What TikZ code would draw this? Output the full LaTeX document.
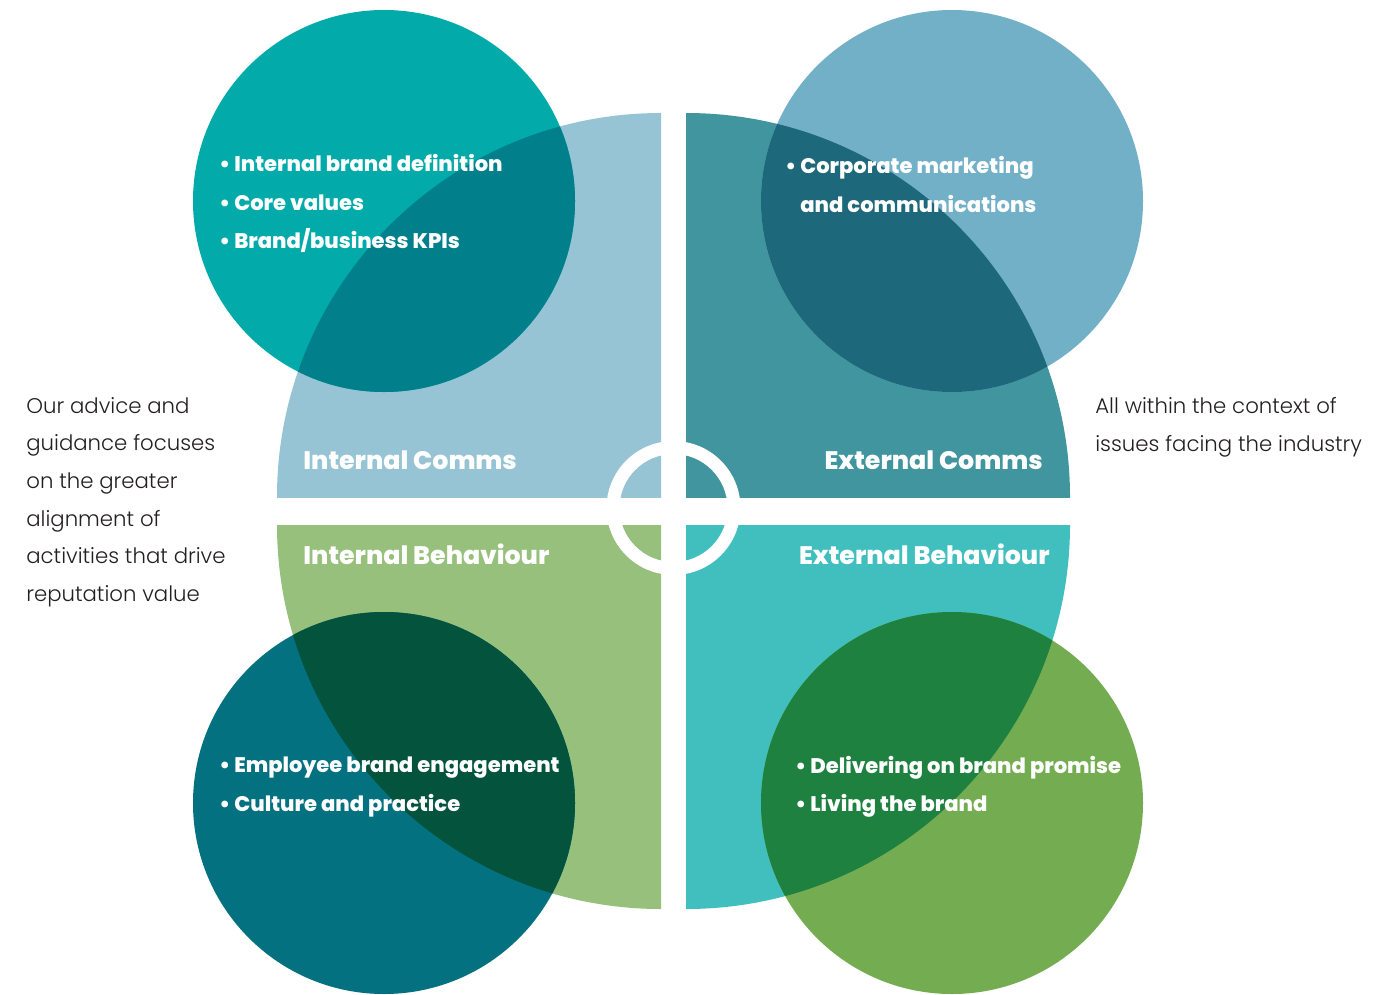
\documentclass[tikz,border=0pt]{standalone}
\usepackage{fontspec}
\setmainfont{Poppins}
\newfontfamily\lightfont{Poppins Light}
\newfontfamily\heavyfont{Poppins ExtraBold}
\usepackage{xcolor}
\usepackage{tikz}
\definecolor{icommsfill}{RGB}{151, 196, 212}
\definecolor{icommsdot}{RGB}{2, 170, 170}
\definecolor{icommsmix}{RGB}{1, 128, 140}
\definecolor{ecommsfill}{RGB}{65, 149, 158}
\definecolor{ecommsdot}{RGB}{114, 176, 200}
\definecolor{ecommsmix}{RGB}{29, 104, 122}
\definecolor{ibehavfill}{RGB}{150, 192, 123}
\definecolor{ibehavdot}{RGB}{3, 113, 127}
\definecolor{ibehavmix}{RGB}{3, 83, 61}
\definecolor{ebehavfill}{RGB}{65, 191, 191}
\definecolor{ebehavdot}{RGB}{116, 172, 82}
\definecolor{ebehavmix}{RGB}{31, 129, 64}
\definecolor{sidetext}{RGB}{35, 31, 32}

\begin{document}
\begin{tikzpicture}[
    x=0.02cm, y=-0.02cm,
    points/.style={text=white, font=\heavyfont\fontsize{12}{21.8}\selectfont, align=left, anchor=west, inner sep=0pt},
    heading/.style={text=white, font=\heavyfont\fontsize{14.4}{18}\selectfont, inner sep=0pt},
    aside/.style={text=sidetext, font=\lightfont\fontsize{12.1}{21.4}\selectfont, align=left, anchor=west, inner sep=0pt}
]
    \useasboundingbox (0,0) rectangle (1395,994);

    % Internal comms quadrant
    \begin{scope}
        \clip (277,113) rectangle (661,497);
        \fill[icommsfill] (661,497) circle[radius=384];
    \end{scope}
    \fill[icommsdot] (384,201) circle[radius=191];
    \begin{scope}
        \clip (277,113) rectangle (661,497);
        \clip (661,497) circle[radius=384];
        \fill[icommsmix] (384,201) circle[radius=191];
    \end{scope}

    % External comms quadrant
    \begin{scope}
        \clip (686,113) rectangle (1070,497);
        \fill[ecommsfill] (686,497) circle[radius=384];
    \end{scope}
    \fill[ecommsdot] (952,201) circle[radius=191];
    \begin{scope}
        \clip (686,113) rectangle (1070,497);
        \clip (686,497) circle[radius=384];
        \fill[ecommsmix] (952,201) circle[radius=191];
    \end{scope}

    % Internal behaviour quadrant
    \begin{scope}
        \clip (277,525) rectangle (661,909);
        \fill[ibehavfill] (661,525) circle[radius=384];
    \end{scope}
    \fill[ibehavdot] (384,803) circle[radius=191];
    \begin{scope}
        \clip (277,525) rectangle (661,909);
        \clip (661,525) circle[radius=384];
        \fill[ibehavmix] (384,803) circle[radius=191];
    \end{scope}

    % External behaviour quadrant
    \begin{scope}
        \clip (686,525) rectangle (1070,909);
        \fill[ebehavfill] (686,525) circle[radius=384];
    \end{scope}
    \fill[ebehavdot] (952,803) circle[radius=191];
    \begin{scope}
        \clip (686,525) rectangle (1070,909);
        \clip (686,525) circle[radius=384];
        \fill[ebehavmix] (952,803) circle[radius=191];
    \end{scope}

    % Centre ring
    \fill[white, even odd rule] (673.5,508) circle[radius=67] circle[radius=54];

    % Quadrant titles
    \node[heading, anchor=west] (icomms) at (303,460) {Internal Comms};
    \node[heading, anchor=east] (ecomms) at (1043,460) {External Comms};
    \node[heading, anchor=west] (ibehav) at (303,554) {Internal Behaviour};
    \node[heading, anchor=east] (ebehav) at (1050,554) {External Behaviour};

    % Bullet lists
    \node[points] (icommslist) at (219,203.5) {• Internal brand definition\\• Core values\\• Brand/business KPIs};
    \node[points] (ecommslist) at (785,184.5) {• Corporate marketing\\\phantom{• }and communications};
    \node[points] (ibehavlist) at (219,787) {• Employee brand engagement\\• Culture and practice};
    \node[points] (ebehavlist) at (795,787) {• Delivering on brand promise\\• Living the brand};

    % Side notes
    \node[aside] (advice) at (26,502) {Our advice and\\guidance focuses\\on the greater\\alignment of\\activities that drive\\reputation value};
    \node[aside] (context) at (1095,427.5) {All within the context of\\issues facing the industry};
\end{tikzpicture}
\end{document}
